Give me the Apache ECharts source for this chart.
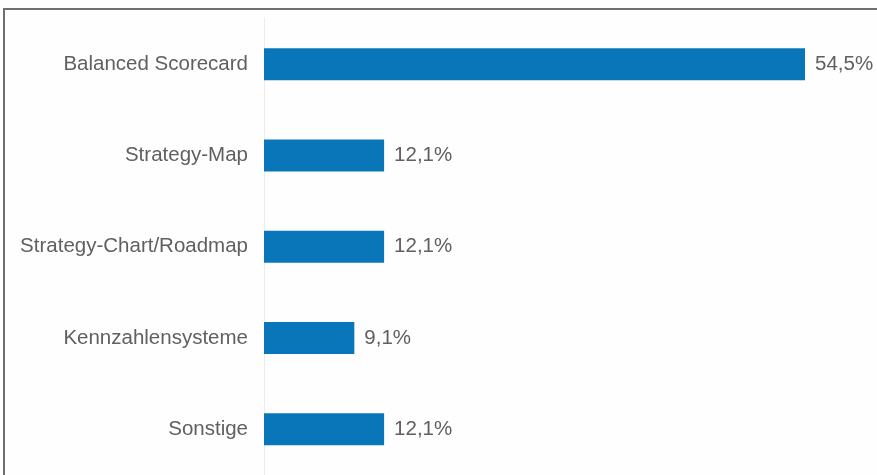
<!DOCTYPE html>
<html><head><meta charset="utf-8">
<script src="https://cdn.jsdelivr.net/npm/echarts@6/dist/echarts.min.js"></script>
<style>html,body{margin:0;padding:0;background:#fff}#c{width:877px;height:475px}</style>
</head><body><div id="c"></div>
<script>
const categories = ["Balanced Scorecard","Strategy-Map","Strategy-Chart/Roadmap","Kennzahlensysteme","Sonstige"];
const values = [54.5,12.1,12.1,9.1,12.1];

const chart = echarts.init(document.getElementById('c'));
chart.setOption({
  animation:false,
  backgroundColor:'#fefefe',
  graphic:[{type:'rect',shape:{x:4,y:9,width:900,height:500},style:{fill:'none',stroke:'#6f6f6f',lineWidth:2},z:100}],
  grid:{left:264,top:18.5,width:595.6,height:462.5,containLabel:false},
  xAxis:{type:'value',min:0,max:60,show:false},
  yAxis:{type:'category',data:categories,inverse:true,
    axisLine:{show:true,lineStyle:{color:'#ececec',width:1}},
    axisTick:{show:false},
    axisLabel:{color:'#606060',fontSize:20.5,fontFamily:'Liberation Sans, Arial, sans-serif',margin:16}},
  series:[{type:'bar',data:values,barWidth:32,
    itemStyle:{color:'#0a76ba'},
    label:{show:true,position:'right',distance:10,color:'#606060',fontSize:20.5,fontFamily:'Liberation Sans, Arial, sans-serif',
      formatter:p=>p.value.toFixed(1).replace('.',',')+'%'}}]
});
</script></body></html>
